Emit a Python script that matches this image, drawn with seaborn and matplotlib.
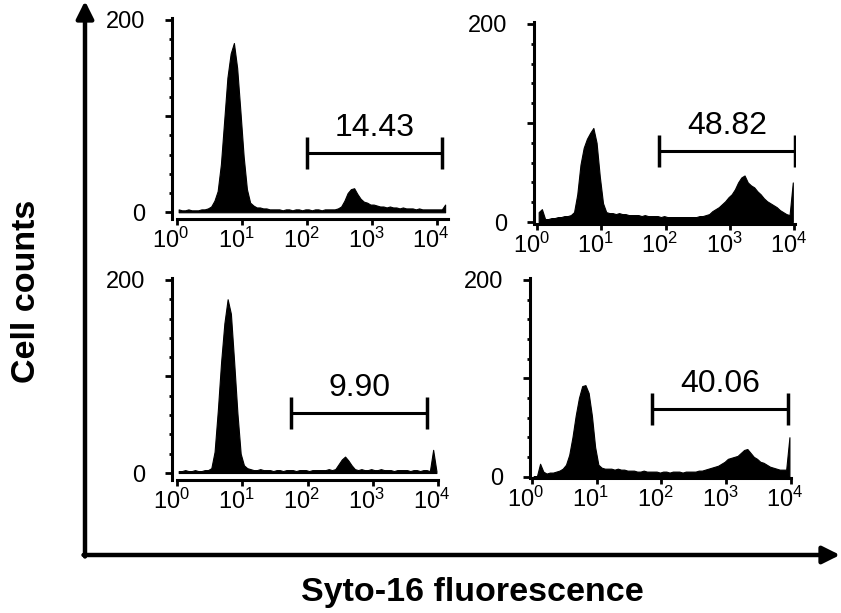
import numpy as np
import pandas as pd
import matplotlib
matplotlib.use("Agg")
import matplotlib.pyplot as plt
import matplotlib.transforms as mtransforms
import seaborn as sns

# channel counts, bins of 0.05 decade starting at 10^0
counts_a = [3, 2, 2, 3, 2, 2, 2, 3, 3, 4,
            6, 12, 22, 50, 95, 140, 165, 176, 150, 105,
            58, 24, 10, 7, 5, 5, 4, 4, 3, 3,
            3, 3, 2, 3, 3, 2, 3, 3, 2, 3,
            3, 2, 3, 3, 2, 3, 3, 3, 3, 4,
            6, 12, 20, 24, 25, 19, 14, 11, 10, 8,
            8, 7, 6, 6, 5, 6, 5, 5, 4, 5,
            4, 4, 4, 3, 4, 3, 3, 3, 3, 3,
            3, 3, 8]
counts_b = [10, 13, 3, 3, 4, 4, 5, 5, 6, 6,
            7, 10, 28, 58, 75, 84, 90, 95, 80, 46,
            19, 10, 9, 9, 8, 9, 8, 8, 7, 7,
            7, 7, 6, 7, 6, 6, 6, 6, 5, 6,
            5, 5, 5, 5, 5, 5, 5, 5, 5, 5,
            6, 6, 7, 8, 11, 13, 15, 18, 21, 25,
            28, 33, 40, 45, 47, 40, 37, 35, 31, 28,
            24, 21, 19, 17, 15, 12, 10, 8, 7, 40]
counts_c = [2, 2, 3, 2, 2, 3, 2, 2, 3, 3,
            5, 22, 65, 115, 155, 180, 165, 115, 62, 20,
            8, 5, 4, 3, 3, 4, 3, 3, 3, 2,
            3, 3, 2, 3, 3, 3, 2, 3, 3, 3,
            2, 3, 3, 3, 3, 3, 4, 3, 4, 9,
            14, 17, 13, 8, 4, 3, 4, 3, 3, 4,
            3, 3, 4, 3, 3, 3, 2, 3, 3, 3,
            3, 2, 3, 3, 2, 3, 3, 2, 24, 2]
counts_d = [0, 0, 13, 5, 3, 4, 4, 5, 6, 8,
            12, 22, 40, 62, 80, 92, 93, 85, 62, 30,
            12, 9, 8, 8, 8, 7, 8, 7, 7, 6,
            6, 6, 5, 5, 6, 5, 5, 5, 5, 4,
            5, 5, 4, 5, 5, 5, 4, 5, 5, 5,
            5, 6, 6, 7, 8, 9, 10, 11, 13, 15,
            18, 19, 20, 21, 24, 27, 28, 24, 20, 18,
            15, 14, 12, 10, 9, 8, 7, 7, 7, 40]

gate_lo = [100, 79, 56, 71]
gate_hi = [11900, 10200, 6800, 8950]
gate_y = [62, 72, 62, 69]
gate_labels = ["14.43", "48.82", "9.90", "40.06"]

decade_ticks = [1, 10, 100, 1000, 10000]
decade_labels = [r"$\mathregular{10^{%d}}$" % i for i in range(5)]
y_ticks = [0, 100, 200]
y_labels = ["0", "", "200"]

sns.set_style("ticks")
plt.rcParams["font.family"] = ["Liberation Sans", "DejaVu Sans"]
plt.rcParams["mathtext.default"] = "regular"
for k in ["text.color", "axes.labelcolor", "xtick.color", "ytick.color", "axes.edgecolor"]:
    plt.rcParams[k] = "black"

W, H = 841, 613
fig = plt.figure(figsize=(W / 100, H / 100), dpi=100)

# axes boxes in pixels: left, bottom(y from top), width, height ; x-range in decades ; ylim
panels = [
    (counts_a, (172, 219, 276, 201), (-0.077, 4.17), (-7, 202)),
    (counts_b, (534, 224, 261, 202), (-0.047, 4.01), (-2, 202)),
    (counts_c, (172, 480, 266, 202), (-0.077, 4.0), (-7.25, 202)),
    (counts_d, (530, 478, 261, 200), (-0.03, 4.0), (-1.5, 202)),
]

shift = mtransforms.ScaledTranslation(-0.06, 0, fig.dpi_scale_trans)

for i, (counts, box, xr, yl) in enumerate(panels):
    l, b, w, h = box
    ax = fig.add_axes([l / W, 1 - b / H, w / W, h / H])
    n = len(counts)
    df = pd.DataFrame({"fl": 10 ** (0.05 * (np.arange(n) + 0.5)),
                       "cnt": np.asarray(counts, dtype=float)})
    sns.histplot(data=df, x="fl", weights="cnt", bins=n,
                 binrange=(0, 0.05 * n), log_scale=True, element="poly",
                 fill=True, color="black", edgecolor="black", alpha=1,
                 linewidth=0.8, ax=ax)
    ax.set_xlim(10 ** xr[0], 10 ** xr[1])
    ax.set_ylim(*yl)
    ax.set_xlabel("")
    ax.set_ylabel("")
    for s in ["top", "right"]:
        ax.spines[s].set_visible(False)
    for s in ["left", "bottom"]:
        ax.spines[s].set_linewidth(2.2)
    ax.spines["bottom"].set_bounds(1, 10 ** xr[1])
    ax.set_xticks(decade_ticks)
    ax.set_xticklabels(decade_labels, fontsize=17)
    ax.xaxis.set_minor_locator(matplotlib.ticker.NullLocator())
    ax.set_yticks(y_ticks)
    ax.set_yticklabels(y_labels, fontsize=17)
    ax.set_yticks(np.arange(0, 201, 20), minor=True)
    ax.tick_params(axis="x", which="major", length=4, width=2, pad=2)
    ax.tick_params(axis="y", which="major", length=5, width=2, pad=14)
    ax.tick_params(axis="y", which="minor", length=2.5, width=2)
    for lab in ax.get_xticklabels():
        lab.set_transform(lab.get_transform() + shift)

    # gate marker
    ax.plot([gate_lo[i], gate_hi[i]], [gate_y[i], gate_y[i]], color="black",
            lw=2.2, marker="|", markersize=23, mew=2.5)
    ax.annotate(gate_labels[i], xy=(np.sqrt(gate_lo[i] * gate_hi[i]), gate_y[i]),
                xytext=(0, 7), textcoords="offset points", ha="center",
                va="bottom", fontsize=23)
    ax.patch.set_alpha(0)

# big L-shaped axes with arrows
cx, cy = 85 / W, 1 - 555 / H
arrow = dict(arrowstyle="-|>", lw=3.2, color="black", mutation_scale=26,
             shrinkA=0, shrinkB=0)
fig.add_artist(matplotlib.patches.FancyArrowPatch(
    (cx, cy - 1.5 / H), (cx, 1 - 1 / H), transform=fig.transFigure, **arrow))
fig.add_artist(matplotlib.patches.FancyArrowPatch(
    (cx - 1.5 / W, cy), (840 / W, cy), transform=fig.transFigure, **arrow))

fig.text(27 / W, 1 - 291 / H, "Cell counts", rotation=90, fontsize=24.5,
         fontweight="bold", ha="center", va="center")
fig.text(472 / W, 1 - 593 / H, "Syto-16 fluorescence", fontsize=24.5,
         fontweight="bold", ha="center", va="center")

fig.savefig("out.png", dpi=100)
